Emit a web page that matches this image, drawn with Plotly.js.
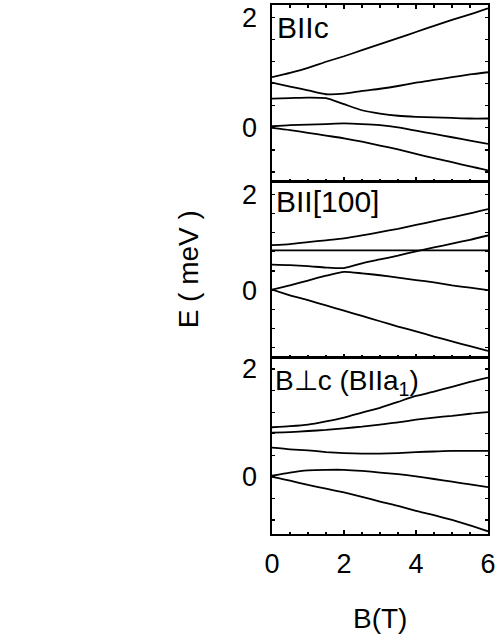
<!DOCTYPE html>
<html>
<head>
<meta charset="utf-8">
<script src="https://cdn.plot.ly/plotly-3.0.1.min.js"></script>
<style>html,body{margin:0;padding:0;background:#fff;}#chart{width:498px;height:643px;}</style>
</head>
<body>
<div id="chart"></div>
<script>
// Magnetic field B (T)
const B = [0, 0.5, 1, 1.5, 2, 2.5, 3, 3.5, 4, 4.5, 5, 5.5, 6];

// Panel 1: B || c  (E in meV)
const c_lvl1 = [0.92, 1.00, 1.09, 1.20, 1.30, 1.41, 1.52, 1.63, 1.74, 1.85, 1.96, 2.06, 2.17];
const c_lvl2 = [0.82, 0.75, 0.68, 0.61, 0.62, 0.67, 0.71, 0.76, 0.82, 0.87, 0.92, 0.97, 1.01];
const c_lvl3 = [0.53, 0.54, 0.55, 0.54, 0.43, 0.32, 0.26, 0.22, 0.20, 0.19, 0.18, 0.17, 0.17];
const c_lvl4 = [0.03, 0.05, 0.06, 0.07, 0.08, 0.07, 0.05, 0.01, -0.05, -0.11, -0.17, -0.23, -0.29];
const c_lvl5 = [0.00, -0.04, -0.09, -0.14, -0.19, -0.25, -0.32, -0.39, -0.47, -0.55, -0.62, -0.70, -0.77];

// Panel 2: B || [100]
const h_lvl1 = [0.94, 0.96, 1.00, 1.04, 1.08, 1.14, 1.21, 1.28, 1.36, 1.44, 1.52, 1.60, 1.69];
const h_lvl2 = [0.83, 0.83, 0.83, 0.83, 0.83, 0.83, 0.83, 0.83, 0.83, 0.83, 0.83, 0.83, 0.83];
const h_lvl3 = [0.53, 0.52, 0.50, 0.47, 0.46, 0.56, 0.64, 0.72, 0.81, 0.89, 0.97, 1.05, 1.14];
const h_lvl4 = [0.01, 0.10, 0.20, 0.30, 0.38, 0.35, 0.31, 0.26, 0.21, 0.16, 0.10, 0.05, 0.00];
const h_lvl5 = [0.01, -0.11, -0.21, -0.32, -0.43, -0.54, -0.65, -0.76, -0.86, -0.97, -1.07, -1.17, -1.27];

// Panel 3: B ⊥ c (B || a1)
const a_lvl1 = [0.92, 0.94, 0.97, 1.03, 1.10, 1.19, 1.28, 1.39, 1.50, 1.58, 1.67, 1.76, 1.84];
const a_lvl2 = [0.82, 0.83, 0.85, 0.87, 0.90, 0.93, 0.97, 1.01, 1.06, 1.10, 1.13, 1.17, 1.20];
const a_lvl3 = [0.54, 0.51, 0.49, 0.46, 0.44, 0.43, 0.43, 0.44, 0.46, 0.47, 0.48, 0.48, 0.48];
const a_lvl4 = [0.02, 0.08, 0.12, 0.13, 0.13, 0.11, 0.08, 0.05, 0.01, -0.04, -0.09, -0.14, -0.19];
const a_lvl5 = [0.00, -0.07, -0.15, -0.22, -0.29, -0.37, -0.46, -0.54, -0.63, -0.71, -0.80, -0.90, -1.01];

const panelLabels = ['BIIc', 'BII[100]', 'B\u22A5c (BIIa<sub>1</sub>)'];
const xTickVals = [0, 2, 4, 6];
const yTickVals = [0, 2];

const FONT = 'Liberation Sans, Arial, sans-serif';
const lineStyle = {color: '#000', width: 1.8, shape: 'spline', smoothing: 0.6};

function mk(y, xa, ya) {
  return {x: B, y: y, xaxis: xa, yaxis: ya, mode: 'lines', line: lineStyle, showlegend: false, hoverinfo: 'skip'};
}
const data = [
  ...[c_lvl1, c_lvl2, c_lvl3, c_lvl4, c_lvl5].map(v => mk(v, 'x', 'y')),
  ...[h_lvl1, h_lvl2, h_lvl3, h_lvl4, h_lvl5].map(v => mk(v, 'x2', 'y2')),
  ...[a_lvl1, a_lvl2, a_lvl3, a_lvl4, a_lvl5].map(v => mk(v, 'x3', 'y3'))
];

function xax(anchor, showLabels, mirror) {
  return {
    anchor: anchor, domain: [0, 1], range: [0, 6],
    tickmode: 'array', tickvals: xTickVals, ticktext: xTickVals.map(String),
    showticklabels: showLabels, ticks: 'inside', ticklen: 4, tickwidth: 1.5, tickcolor: '#000',
    minor: {dtick: 0.5, tick0: 0, ticks: 'inside', ticklen: 2.5, tickwidth: 1.2, tickcolor: '#000', showgrid: false},
    showline: true, linecolor: '#000', linewidth: 1.6, mirror: mirror,
    showgrid: false, zeroline: false,
    tickfont: {family: FONT, size: 27, color: '#000'}, ticklabelstandoff: 5
  };
}
function yax(anchor, domain, range) {
  return {
    anchor: anchor, domain: domain, range: range,
    tickmode: 'array', tickvals: yTickVals, ticktext: yTickVals.map(String),
    ticks: 'inside', ticklen: 3, tickwidth: 1.2, tickcolor: '#000',
    minor: {dtick: 0.4, tick0: 0, ticks: 'inside', ticklen: 3, tickwidth: 1.2, tickcolor: '#000', showgrid: false},
    showline: true, linecolor: '#000', linewidth: 1.6, mirror: 'ticks',
    showgrid: false, zeroline: false,
    tickfont: {family: FONT, size: 27, color: '#000'}, ticklabelstandoff: 8
  };
}

const layout = {
  width: 498, height: 643,
  margin: {l: 272, r: 10, t: 5, b: 109},
  paper_bgcolor: '#fff', plot_bgcolor: '#fff',
  font: {family: FONT, color: '#000'},
  xaxis: xax('y', false, 'ticks'),
  xaxis2: xax('y2', false, true),
  xaxis3: xax('y3', true, true),
  yaxis: yax('x', [2/3, 1], [-0.97, 2.23]),
  yaxis2: yax('x2', [1/3, 2/3], [-1.41, 2.27]),
  yaxis3: yax('x3', [0, 1/3], [-1.06, 2.21]),
  annotations: [
    {text: panelLabels[0], xref: 'x domain', yref: 'y domain', x: 0.015, y: 0.87, xanchor: 'left', yanchor: 'middle', showarrow: false, font: {family: FONT, size: 30, color: '#000'}},
    {text: panelLabels[1], xref: 'x2 domain', yref: 'y2 domain', x: 0.01, y: 0.885, xanchor: 'left', yanchor: 'middle', showarrow: false, font: {family: FONT, size: 30, color: '#000'}},
    {text: panelLabels[2], xref: 'x3 domain', yref: 'y3 domain', x: 0.005, y: 0.86, xanchor: 'left', yanchor: 'middle', showarrow: false, font: {family: FONT, size: 28, color: '#000'}},
    {text: 'B(T)', xref: 'paper', yref: 'paper', x: 0.5, y: -0.159, xanchor: 'center', yanchor: 'middle', showarrow: false, font: {family: FONT, size: 28, color: '#000'}},
    {text: 'E ( meV )', xref: 'paper', yref: 'paper', x: -0.385, y: 0.5, xanchor: 'center', yanchor: 'middle', textangle: -90, showarrow: false, font: {family: FONT, size: 28, color: '#000'}}
  ]
};

Plotly.newPlot('chart', data, layout, {staticPlot: true, displayModeBar: false});
</script>
</body>
</html>
